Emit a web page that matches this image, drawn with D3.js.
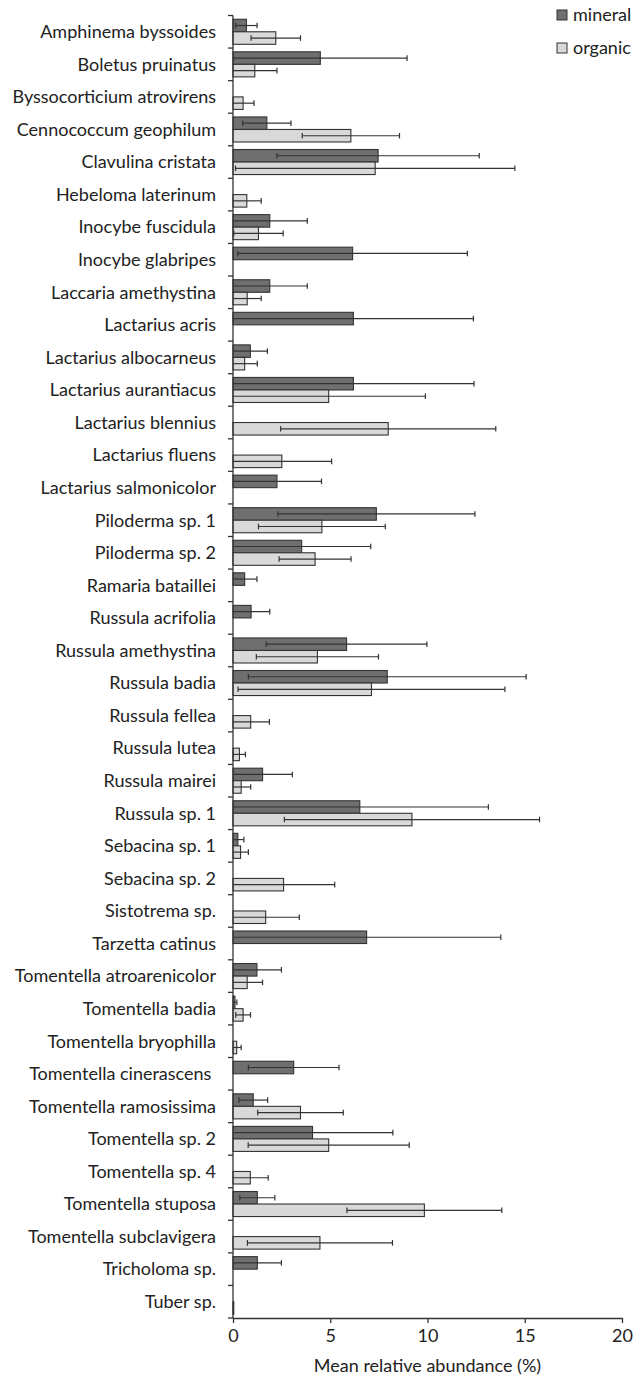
<!DOCTYPE html>
<html>
<head>
<meta charset="utf-8">
<script src="https://cdn.jsdelivr.net/npm/d3@7"></script>
<style>
  html, body { margin: 0; padding: 0; background: #fff; }
  svg { display: block; }
  text { font-family: Lato, "Open Sans", sans-serif; fill: #222; }
</style>
</head>
<body>
<svg id="chart" width="633" height="1379"></svg>
<script>
// Species (one row each), top to bottom
const species = [
  "Amphinema byssoides", "Boletus pruinatus", "Byssocorticium atrovirens",
  "Cennococcum geophilum", "Clavulina cristata", "Hebeloma laterinum",
  "Inocybe fuscidula", "Inocybe glabripes", "Laccaria amethystina",
  "Lactarius acris", "Lactarius albocarneus", "Lactarius aurantiacus",
  "Lactarius blennius", "Lactarius fluens", "Lactarius salmonicolor",
  "Piloderma sp. 1", "Piloderma sp. 2", "Ramaria bataillei",
  "Russula acrifolia", "Russula amethystina", "Russula badia",
  "Russula fellea", "Russula lutea", "Russula mairei", "Russula sp. 1",
  "Sebacina sp. 1", "Sebacina sp. 2", "Sistotrema sp.", "Tarzetta catinus",
  "Tomentella atroarenicolor", "Tomentella badia", "Tomentella bryophilla",
  "Tomentella cinerascens\u00a0", "Tomentella ramosissima", "Tomentella sp. 2",
  "Tomentella sp. 4", "Tomentella stuposa", "Tomentella subclavigera",
  "Tricholoma sp.", "Tuber sp."
];

// Mean relative abundance (%) in the mineral horizon (null = not found)
const mineral = [
  0.69, 4.49, null, 1.74, 7.46, null, 1.89, 6.15, 1.89, 6.19,
  0.89, 6.19, null, null, 2.26, 7.37, 3.53, 0.60, 0.93, 5.84,
  7.93, null, null, 1.52, 6.52, 0.25, null, null, 6.87, 1.23,
  0.10, null, 3.12, 1.04, 4.09, null, 1.25, null, 1.25, null
];
const mineralSd = [
  0.55, 4.46, null, 1.24, 5.20, null, 1.93, 5.90, 1.93, 6.17,
  0.88, 6.20, null, null, 2.29, 5.07, 3.55, 0.63, 0.96, 4.13,
  7.14, null, null, 1.53, 6.61, 0.31, null, null, 6.90, 1.26,
  0.10, null, 2.33, 0.74, 4.13, null, 0.90, null, 1.24, null
];

// Mean relative abundance (%) in the organic horizon (null = not found)
const organic = [
  2.20, 1.12, 0.52, 6.06, 7.31, 0.71, 1.31, null, 0.73, null,
  0.60, 4.92, 7.98, 2.51, null, 4.57, 4.22, null, null, 4.34,
  7.12, 0.91, 0.33, 0.42, 9.20, 0.39, 2.60, 1.68, null, 0.73,
  0.52, 0.19, null, 3.47, 4.92, 0.89, 9.84, 4.47, null, 0.04
];
const organicSd = [
  1.27, 1.14, 0.56, 2.50, 7.18, 0.74, 1.27, null, 0.72, null,
  0.65, 4.97, 5.53, 2.56, null, 3.26, 1.85, null, null, 3.14,
  6.86, 0.96, 0.31, 0.49, 6.56, 0.40, 2.63, 1.73, null, 0.79,
  0.38, 0.23, null, 2.20, 4.14, 0.92, 3.98, 3.73, null, 0
];

const xTicks = [0, 5, 10, 15, 20];
const horizons = ["mineral", "organic"];
const fills = { mineral: "#6f6f6f", organic: "#d9d9d9" };
const fontSize = "18px";

const svg = d3.select("#chart");

const x = d3.scaleLinear().domain([0, 20]).range([233, 622]);
const y = d3.scaleBand().domain(species).range([15.5, 1318]).padding(0);
const sub = d3.scaleBand().domain(horizons).range([0, y.bandwidth()])
  .paddingInner(0).paddingOuter(0.3);

const rows = [];
species.forEach((s, i) => {
  if (mineral[i] != null) rows.push({ s, h: "mineral", v: mineral[i], sd: mineralSd[i] });
  if (organic[i] != null) rows.push({ s, h: "organic", v: organic[i], sd: organicSd[i] });
});

// Bars
svg.append("g").selectAll("rect").data(rows).join("rect")
  .attr("x", x(0))
  .attr("y", d => y(d.s) + sub(d.h))
  .attr("width", d => x(d.v) - x(0))
  .attr("height", sub.bandwidth())
  .attr("fill", d => fills[d.h])
  .attr("stroke", "#333")
  .attr("stroke-width", 1.1);

// Error bars (mean ± SD, clipped at the axis)
const err = svg.append("g").attr("stroke", "#333").attr("stroke-width", 1.2);
rows.filter(d => d.sd > 0).forEach(d => {
  const cy = y(d.s) + sub(d.h) + sub.bandwidth() / 2;
  const lo = d.v - d.sd, hi = d.v + d.sd;
  const x0 = x(Math.max(0, lo)), x1 = x(hi);
  err.append("line").attr("x1", x0).attr("x2", x1).attr("y1", cy).attr("y2", cy);
  err.append("line").attr("x1", x1).attr("x2", x1).attr("y1", cy - 2.8).attr("y2", cy + 2.8);
  if (lo > 0.02) {
    err.append("line").attr("x1", x0).attr("x2", x0).attr("y1", cy - 2.8).attr("y2", cy + 2.8);
  }
});

// Category axis: line, boundary ticks and labels
const yAxis = svg.append("g").attr("stroke", "#333").attr("stroke-width", 1.3);
yAxis.append("line").attr("x1", x(0)).attr("x2", x(0))
  .attr("y1", y.range()[0]).attr("y2", y.range()[1]);
const bounds = species.map(s => y(s)).concat([y.range()[1]]);
yAxis.selectAll("line.tick").data(bounds).join("line").attr("class", "tick")
  .attr("x1", x(0) - 5).attr("x2", x(0))
  .attr("y1", d => d).attr("y2", d => d);

svg.append("g").selectAll("text").data(species).join("text")
  .attr("x", 216)
  .attr("y", d => y(d) + y.bandwidth() / 2)
  .attr("dy", "0.35em")
  .attr("text-anchor", "end")
  .style("font-size", fontSize)
  .text(d => d);

// Value axis
const xAxis = svg.append("g").attr("transform", `translate(0,${y.range()[1]})`)
  .call(d3.axisBottom(x).tickValues(xTicks).tickSize(5).tickSizeOuter(0).tickPadding(6));
xAxis.select(".domain").attr("stroke", "#333").attr("stroke-width", 1.3);
xAxis.selectAll(".tick line").attr("stroke", "#333").attr("stroke-width", 1.3);
xAxis.selectAll(".tick text")
  .style("font-family", "Lato, 'Open Sans', sans-serif")
  .style("font-size", fontSize).attr("fill", "#222");

svg.append("text")
  .attr("x", (x(0) + x(20)) / 2)
  .attr("y", 1372)
  .attr("text-anchor", "middle")
  .style("font-size", fontSize)
  .text("Mean relative abundance (%)");

// Legend
const legend = svg.append("g").selectAll("g").data(horizons).join("g")
  .attr("transform", (d, i) => `translate(557,${15 + i * 33})`);
legend.append("rect")
  .attr("x", 0).attr("y", -5).attr("width", 10).attr("height", 10)
  .attr("fill", d => fills[d]).attr("stroke", "#333").attr("stroke-width", 1);
legend.append("text")
  .attr("x", 16).attr("y", 0).attr("dy", "0.35em")
  .style("font-size", fontSize)
  .text(d => d);
</script>
</body>
</html>
